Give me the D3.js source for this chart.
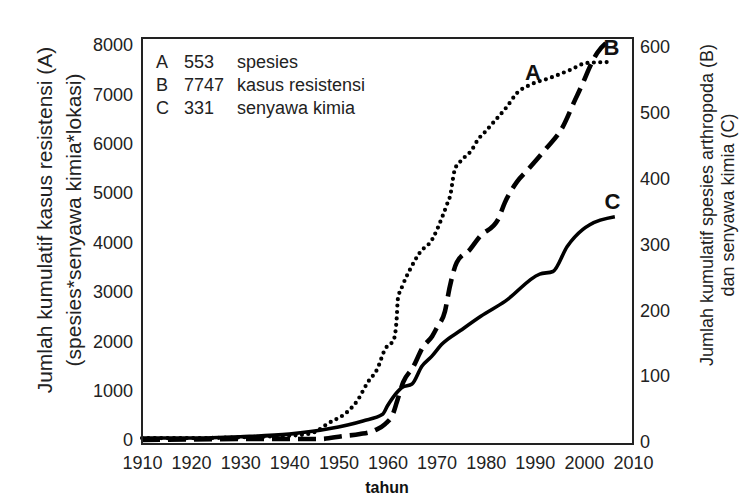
<!DOCTYPE html>
<html>
<head>
<meta charset="utf-8">
<script src="https://cdn.jsdelivr.net/npm/d3@7"></script>
<style>
body{margin:0;background:#fff;}
svg{font-family:"Liberation Sans",Arial,sans-serif;}
.tick text{font-size:18px;fill:#222;}
.title{font-size:21px;fill:#222;}
</style>
</head>
<body>
<svg id="graph"></svg>
<script>
// dotted curve (A), read on left axis
var yearsA = [1910,1922,1932,1942,1945.2,1947.7,1952,1953.8,1956,1957.9,1959.5,1961.3,1961.9,1962.1,1963,1964.6,1966.6,1969.1,1970.1,1971.1,1972.1,1972.9,1973.3,1973.7,1974.8,1977.2,1978.4,1979.9,1981.5,1984.3,1986.4,1989,1993.1,1997.2,2000.6,2005.9]
var valuesA = [40,40,60,100,160,323,586,788,1172,1434,1838,2040,2505,2848,3111,3455,3798,4061,4263,4505,4768,5010,5273,5475,5636,5879,6081,6242,6424,6747,7030,7192,7333,7495,7636,7657]

// dashed curve (B), left axis
var yearsB = [1910,1932,1946.3,1950.9,1954.4,1957.5,1959.5,1961.1,1961.9,1963.2,1965.2,1967.2,1969.1,1970.1,1971.7,1972.7,1974.1,1976.8,1978.8,1982.5,1983.9,1986.4,1988.6,1992.1,1995.7,1998.2,1999.8,2001.2,2002.7,2005.3]
var valuesB = [0,20,20,80,120,200,323,525,768,1172,1475,1879,2101,2283,2606,3111,3596,3859,4121,4465,4808,5232,5475,5879,6343,6889,7232,7556,7838,8101]

// solid curve (C), right axis
var yearsC = [1910,1920,1930,1940,1948,1955,1959,1960,1962,1963,1965,1967,1969,1971,1975,1979,1984,1991,1993.7,1996.6,1999.8,2001.2,2006.3]
var valuesC = [6,6,8,12,20,32,42,55,76,83,88,115,130,148,170,191,214,255,259,297,323,330,342]

var xTicks = [1910,1920,1930,1940,1950,1960,1970,1980,1990,2000,2010]
var leftTicks = [0,1000,2000,3000,4000,5000,6000,7000,8000]
var rightTicks = [0,100,200,300,400,500,600]

var legendKeys = ["A","B","C"]
var legendNums = ["553","7747","331"]
var legendNames = ["spesies","kasus resistensi","senyawa kimia"]

// end labels: letter, year, value, axis
var endLabels = [
    {key:"A",year:1989.6,value:7290,axis:"left"},
    {key:"B",year:2005.6,value:7797,axis:"left"},
    {key:"C",year:2005.8,value:354,axis:"right"}
]

var zip = function(xs,ys){
    return xs.map(function(d,i){ return {year:d,value:ys[i]} })
}

var initGraph = function()
{
    var screen = {width:751,height:499}
    var box = {left:142,right:633,top:38,bottom:444}

    var svg = d3.select("#graph")
        .attr("width",screen.width)
        .attr("height",screen.height)

    var xScale = d3.scaleLinear().domain([1910,2010]).range([142,633])
    var yLeft = d3.scaleLinear().domain([0,8000]).range([440,45])
    var yRight = d3.scaleLinear().domain([0,600]).range([442,47])

    // axes, no tick marks
    svg.append("g")
        .attr("transform","translate(0,"+(box.bottom+10)+")")
        .call(d3.axisBottom(xScale).tickValues(xTicks).tickFormat(d3.format("d")).tickSize(0).tickPadding(2))
        .call(function(g){ g.select(".domain").remove() })
    svg.append("g")
        .attr("transform","translate("+(box.left-9)+",0)")
        .call(d3.axisLeft(yLeft).tickValues(leftTicks).tickFormat(d3.format("d")).tickSize(0).tickPadding(0))
        .call(function(g){ g.select(".domain").remove() })
    svg.append("g")
        .attr("transform","translate("+(box.right+7)+",0)")
        .call(d3.axisRight(yRight).tickValues(rightTicks).tickSize(0).tickPadding(0))
        .call(function(g){ g.select(".domain").remove() })
    svg.selectAll(".tick text").attr("fill","#222")

    var plot = svg.append("g")

    var lineL = d3.line()
        .x(function(d){ return xScale(d.year) })
        .y(function(d){ return yLeft(d.value) })
        .curve(d3.curveMonotoneX)
    var lineR = d3.line()
        .x(function(d){ return xScale(d.year) })
        .y(function(d){ return yRight(d.value) })
        .curve(d3.curveMonotoneX)

    plot.append("path")
        .datum(zip(yearsC,valuesC))
        .attr("d",lineR)
        .attr("fill","none")
        .attr("stroke","#000")
        .attr("stroke-width",3.6)
        .attr("stroke-linejoin","round")

    plot.append("path")
        .datum(zip(yearsB,valuesB))
        .attr("d",lineL)
        .attr("fill","none")
        .attr("stroke","#000")
        .attr("stroke-width",4.6)
        .attr("stroke-dasharray","18,8")

    plot.append("path")
        .datum(zip(yearsA,valuesA))
        .attr("d",lineL)
        .attr("fill","none")
        .attr("stroke","#000")
        .attr("stroke-width",4.2)
        .attr("stroke-linecap","round")
        .attr("stroke-dasharray","0,6.4")

    // frame
    svg.append("rect")
        .attr("x",box.left)
        .attr("y",box.top)
        .attr("width",box.right-box.left)
        .attr("height",box.bottom-box.top)
        .attr("fill","none")
        .attr("stroke","#222")
        .attr("stroke-width",2)

    // letters at curve ends
    plot.selectAll(".endlabel")
        .data(endLabels)
        .enter()
        .append("text")
        .attr("class","endlabel")
        .attr("x",function(d){ return xScale(d.year) })
        .attr("y",function(d){ return d.axis=="left" ? yLeft(d.value) : yRight(d.value) })
        .attr("text-anchor","middle")
        .attr("font-size","22px")
        .attr("font-weight","bold")
        .attr("fill","#111")
        .text(function(d){ return d.key })

    drawLegend(svg)
    drawLabels(svg,box)
}

var drawLegend = function(svg)
{
    var legend = svg.append("g")
        .attr("font-size","18px")
        .attr("fill","#222")
    var rows = legend.selectAll("g")
        .data(legendKeys)
        .enter()
        .append("g")
        .attr("transform",function(d,i){ return "translate(0,"+(68+i*23)+")" })
    rows.append("text").attr("x",156).text(function(d){ return d })
    rows.append("text").attr("x",184).text(function(d,i){ return legendNums[i] })
    rows.append("text").attr("x",237).text(function(d,i){ return legendNames[i] })
}

var drawLabels = function(svg,box)
{
    var labels = svg.append("g")

    var left = labels.append("text")
        .attr("class","title")
        .attr("text-anchor","middle")
        .attr("transform","translate(52,220) rotate(-90)")
    left.append("tspan").attr("x",0).attr("y",0).text("Jumlah kumulatif kasus resistensi (A)")
    left.append("tspan").attr("x",0).attr("y",29).text("(spesies*senyawa kimia*lokasi)")

    var right = labels.append("text")
        .attr("class","title")
        .style("font-size","18px")
        .attr("text-anchor","middle")
        .attr("transform","translate(713,205) rotate(-90)")
    right.append("tspan").attr("x",0).attr("y",0).text("Jumlah kumulatif spesies arthropoda (B)")
    right.append("tspan").attr("x",0).attr("y",21).text("dan senyawa kimia (C)")

    labels.append("text")
        .text("tahun")
        .attr("x",387)
        .attr("y",493)
        .attr("text-anchor","middle")
        .attr("font-size","16px")
        .attr("font-weight","bold")
        .attr("fill","#111")
}

initGraph()
</script>
</body>
</html>
